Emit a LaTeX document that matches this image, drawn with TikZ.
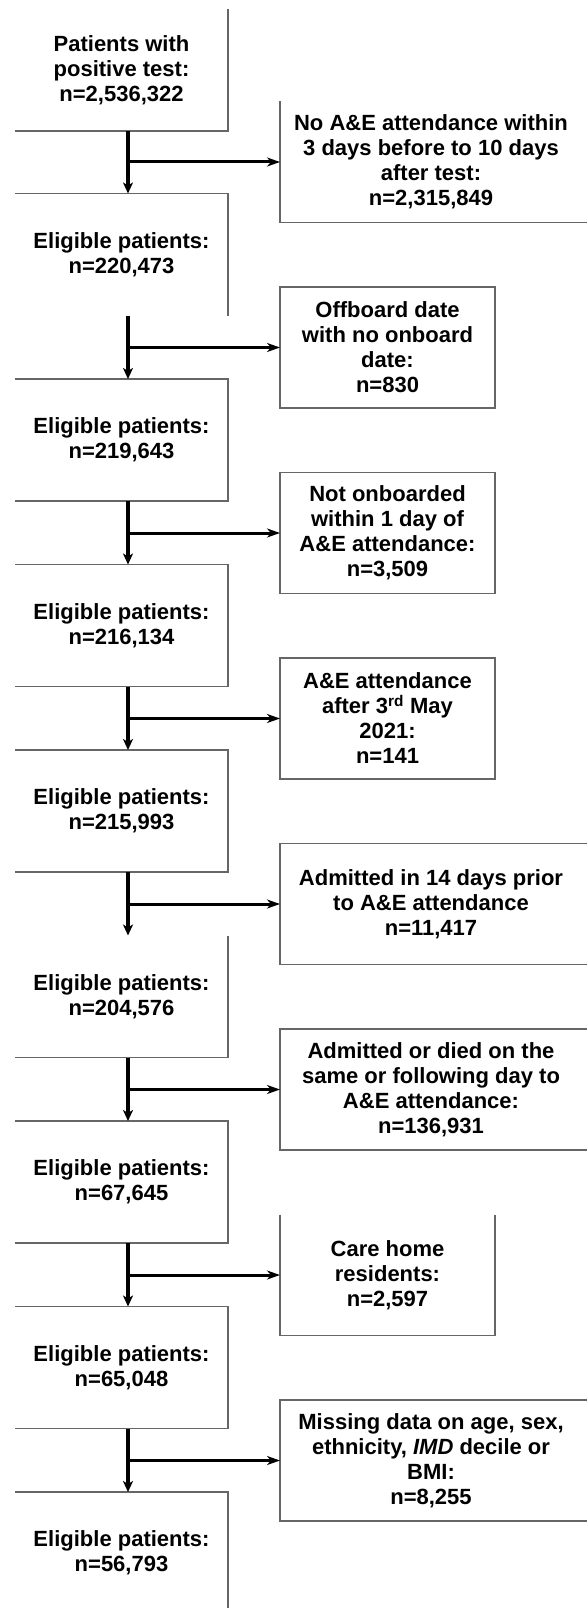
\documentclass[tikz,border=0pt]{standalone}
\usepackage{fontspec}
\setmainfont{Liberation Sans}
\usetikzlibrary{arrows.meta}
\begin{document}
\begin{tikzpicture}[x=1pt,y=-1pt,
  txt/.style={inner sep=0pt,outer sep=0pt,align=center,
    font=\fontsize{22}{25}\selectfont\bfseries},
  lbox/.style={txt,minimum width=213pt,minimum height=122pt},
  rbox/.style={txt,minimum width=215pt,minimum height=121pt},
  wbox/.style={txt,minimum width=302pt,minimum height=121pt},
  side/.style={draw=black!60,line width=1.4pt},
  exitarrow/.style={draw=black,line width=3pt,-{Stealth[length=13pt,width=9pt,inset=4pt]}},
  downarrow/.style={draw=black,line width=3.2pt,-{Stealth[length=11pt,width=10pt,inset=3pt]}}]
\useasboundingbox (0,0) rectangle (586,1608);
\fill[white] (0,0) rectangle (586,1608);
\coordinate (edge) at (600,0);
\coordinate (floor) at (0,1620);
% left column
\node[lbox] (L1) at (121.5,70) {Patients with\\positive test:\\n=2,536,322};
\node[lbox] (L2) at (121.5,254.5) {Eligible patients:\\n=220,473};
\node[lbox] (L3) at (121.5,440) {Eligible patients:\\n=219,643};
\node[lbox] (L4) at (121.5,625.5) {Eligible patients:\\n=216,134};
\node[lbox] (L5) at (121.5,811) {Eligible patients:\\n=215,993};
\node[lbox] (L6) at (121.5,996.5) {Eligible patients:\\n=204,576};
\node[lbox] (L7) at (121.5,1182) {Eligible patients:\\n=67,645};
\node[lbox] (L8) at (121.5,1367.5) {Eligible patients:\\n=65,048};
\node[lbox] (L9) at (121.5,1553) {Eligible patients:\\n=56,793};
% right column
\node[wbox] (R1) at (431,162) {No A\&E attendance within\\3 days before to 10 days\\after test:\\n=2,315,849};
\node[rbox] (R2) at (387.5,347.5) {Offboard date\\with no onboard\\date:\\n=830};
\node[rbox] (R3) at (387.5,533) {Not onboarded\\within 1 day of\\A\&E attendance:\\n=3,509};
\node[rbox] (R4) at (387.5,718.5) {A\&E attendance\\after 3\textsuperscript{rd} May\\2021:\\n=141};
\node[wbox] (R5) at (431,904) {Admitted in 14 days prior\\to A\&E attendance\\n=11,417};
\node[wbox] (R6) at (431,1089.5) {Admitted or died on the\\same or following day to\\A\&E attendance:\\n=136,931};
\node[rbox] (R7) at (387.5,1275) {Care home\\residents:\\n=2,597};
\node[wbox] (R8) at (431,1460.5) {Missing data on age, sex,\\ethnicity, \textit{IMD} decile or\\BMI:\\n=8,255};
% box outlines (as printed)
\draw[side] (L1.north east) -- (L1.south east) -- (L1.south west);
\draw[side] (L2.north west) -- (L2.north east) -- (L2.south east);
\foreach \b in {L3,L4,L5,L7,L8}
  \draw[side] (\b.north west) -- (\b.north east) -- (\b.south east) -- (\b.south west);
\draw[side] (L6.north east) -- (L6.south east) -- (L6.south west);
\draw[side] (L9.north west) -- (L9.north east) -- (L9.north east |- floor);
\foreach \b in {R2,R3,R4}
  \draw[side] (\b.north west) rectangle (\b.south east);
\draw[side] (R1.north west) -- (R1.south west) -- (R1.south west -| edge);
\foreach \b in {R5,R6,R8}
  \draw[side] (\b.north west -| edge) -- (\b.north west) -- (\b.south west) -- (\b.south west -| edge);
\draw[side] (R7.north west) -- (R7.south west) -- (R7.south east) -- (R7.north east);
% connectors
\foreach \a/\b/\r in {L1/L2/R1,L2/L3/R2,L3/L4/R3,L4/L5/R4,L5/L6/R5,L6/L7/R6,L7/L8/R7,L8/L9/R8}{
  \coordinate (s\a) at ([xshift=6.5pt]\a.south);
  \coordinate (e\b) at ([xshift=6.5pt]\b.north);
  \draw[downarrow] (s\a) -- (e\b);
  \draw[exitarrow] (\r.west -| s\a) -- (\r.west);
}
\end{tikzpicture}
\end{document}
